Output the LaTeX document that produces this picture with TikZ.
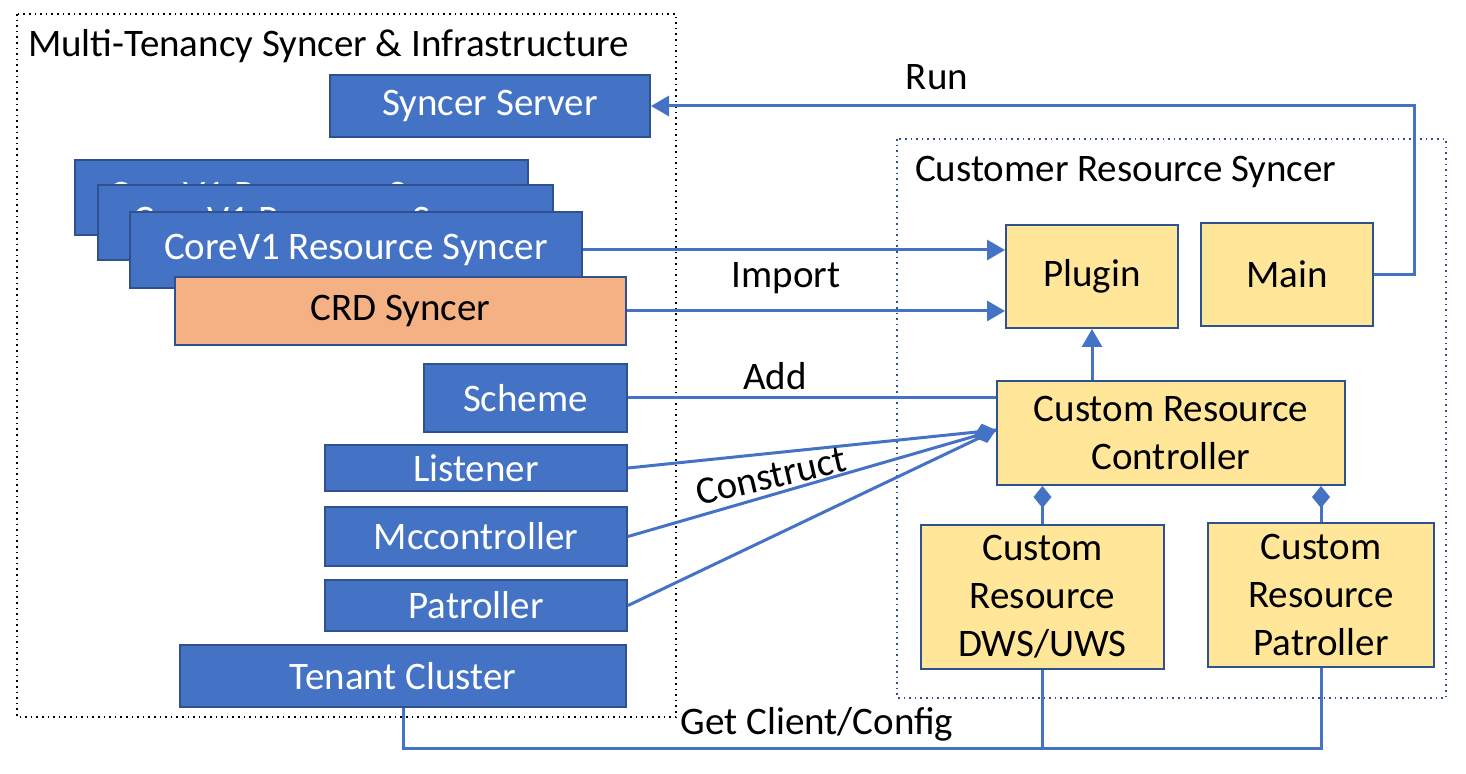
\documentclass[tikz,border=0pt]{standalone}
\usepackage{fontspec}
\setmainfont{Carlito}
\usetikzlibrary{arrows.meta}

\definecolor{boxblue}{HTML}{4472C4}
\definecolor{edgeblue}{HTML}{2F528F}
\definecolor{boxyellow}{HTML}{FFE699}
\definecolor{boxorange}{HTML}{F4B183}

\begin{document}
\begin{tikzpicture}[x=0.5pt, y=-0.5pt, font=\fontsize{19.5}{24}\selectfont]
  \useasboundingbox (0,0) rectangle (1466,774);

  \tikzstyle{box}=[rectangle, draw=edgeblue, line width=1pt, inner sep=0pt, align=center]
  \tikzstyle{bluebox}=[box, fill=boxblue, text=white]
  \tikzstyle{yellowbox}=[box, fill=boxyellow, text=black]
  \tikzstyle{orangebox}=[box, fill=boxorange, text=black]
  \tikzstyle{link}=[draw=boxblue, line width=1.5pt]
  \tikzstyle{arr}=[link, -{Triangle[length=9pt, width=10pt]}]
  \tikzstyle{has}=[link, {Diamond[length=11pt, width=9pt]}-]

  % Rahmen
  \draw[dotted, line width=0.8pt] (17,14) rectangle (676,717);
  \draw[dotted, draw=edgeblue, line width=0.8pt] (897,139) rectangle (1446,698);

  \node[anchor=west] (mtitle) at (21,46) {Multi-Tenancy Syncer \& Infrastructure};
  \node[anchor=west] (ctitle) at (908,172) {Customer Resource Syncer};

  % linke Seite
  \node[bluebox, minimum width=160pt, minimum height=31pt] (server) at (490,106) {Syncer Server};
  \node[bluebox, minimum width=226.5pt, minimum height=37.5pt] (core1) at (301.5,197.5) {CoreV1 Resource Syncer};
  \node[bluebox, minimum width=227.5pt, minimum height=37.5pt] (core2) at (325.5,222.5) {CoreV1 Resource Syncer};
  \node[bluebox, minimum width=226pt, minimum height=38pt] (core3) at (356,250) {CoreV1 Resource Syncer};
  \node[orangebox, minimum width=225.5pt, minimum height=34pt] (crd) at (400.5,311) {CRD Syncer};
  \node[bluebox, minimum width=101.5pt, minimum height=34pt] (scheme) at (525.5,398) {Scheme};
  \node[bluebox, minimum width=151pt, minimum height=23pt] (listener) at (476,468) {Listener};
  \node[bluebox, minimum width=151pt, minimum height=29.5pt] (mcc) at (476,536.5) {Mccontroller};
  \node[bluebox, minimum width=151pt, minimum height=25.5pt] (patroller) at (476,605.5) {Patroller};
  \node[bluebox, minimum width=223pt, minimum height=31pt] (tenant) at (403,676) {Tenant Cluster};

  % rechte Seite
  \node[yellowbox, minimum width=86pt, minimum height=51.5pt] (plugin) at (1092,276.5) {Plugin};
  \node[yellowbox, minimum width=86pt, minimum height=51.5pt] (main) at (1287,274.5) {Main};
  \node[yellowbox, minimum width=174pt, minimum height=52pt] (ctrl) at (1171,433) {Custom Resource\\Controller};
  \node[yellowbox, minimum width=121.5pt, minimum height=72pt] (dws) at (1042.5,597) {Custom\\Resource\\DWS/UWS};
  \node[yellowbox, minimum width=113pt, minimum height=72pt] (crpat) at (1321,595) {Custom\\Resource\\Patroller};

  % Verbindungen
  \draw[arr] (core3.east) -- (core3.east -| plugin.west);
  \draw[arr] (crd.east) -- (crd.east -| plugin.west);
  \draw[arr] (main.east) -- ++(40,0) |- (server.east);
  \draw[arr] (plugin.south |- ctrl.north) -- (plugin.south);
  \draw[link] (scheme.east) -- (scheme.east -| ctrl.west);

  \coordinate (hub) at ([yshift=1.5pt]ctrl.west);
  \draw[link] (listener.east) -- (hub);
  \draw[link] (patroller.east) -- (hub);
  \draw[link, -{Diamond[length=12pt, width=10pt]}] (mcc.east) -- (hub);

  \draw[has] (ctrl.south -| dws.north) -- (dws.north);
  \draw[has] (ctrl.south -| crpat.north) -- (crpat.north);

  \draw[link] (tenant.south) -- ++(0,40) coordinate (bus) -| (crpat.south);
  \draw[link] (dws.south) -- (dws.south |- bus);

  % Beschriftungen
  \node (run) at (937,77) {Run};
  \node (import) at (786,278) {Import};
  \node (add) at (775,376) {Add};
  \node[rotate=13] (construct) at (771,476) {Construct};
  \node (getcfg) at (817,724) {Get Client/Config};
\end{tikzpicture}
\end{document}
